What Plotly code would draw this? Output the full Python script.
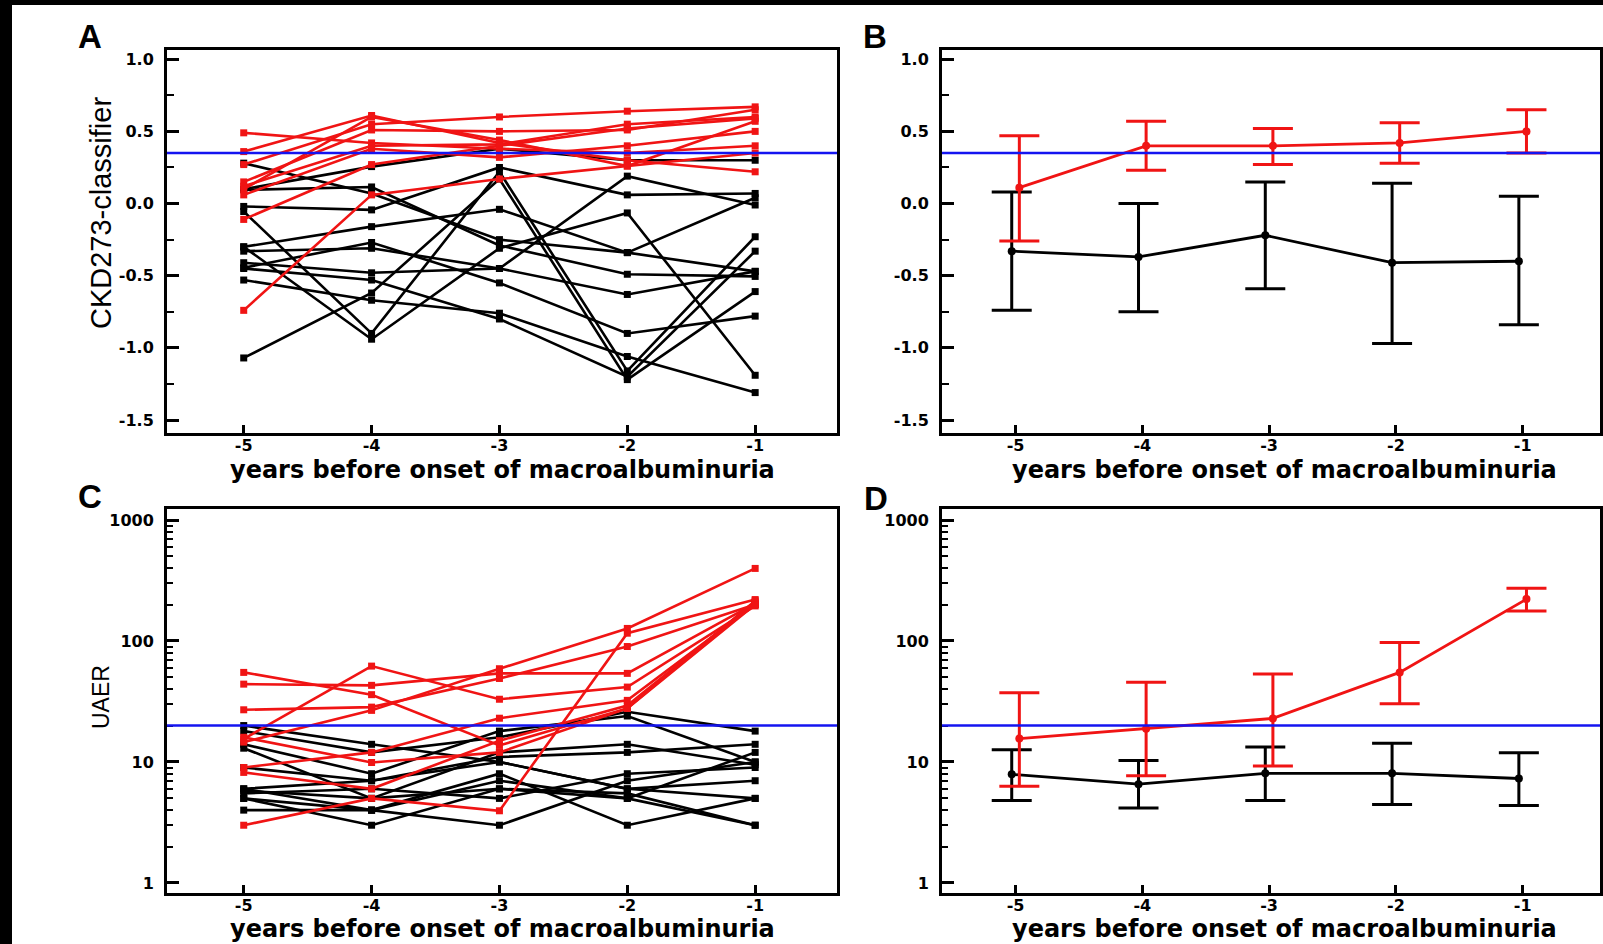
import plotly.graph_objects as go

# ---------------- data ----------------
years = [-5, -4, -3, -2, -1]
year_labels = ["-5", "-4", "-3", "-2", "-1"]

# Panel A: individual CKD273-classifier scores
ckd_red = [
    [0.49, 0.42, 0.38, 0.35, 0.40],
    [0.36, 0.61, 0.42, 0.30, 0.22],
    [0.27, 0.55, 0.60, 0.64, 0.67],
    [0.15, 0.51, 0.50, 0.51, 0.65],
    [0.12, 0.40, 0.41, 0.55, 0.60],
    [0.10, 0.60, 0.44, 0.26, 0.57],
    [0.06, 0.38, 0.32, 0.40, 0.50],
    [-0.11, 0.27, 0.40, 0.52, 0.59],
    [-0.74, 0.06, 0.17, 0.26, 0.35],
]
ckd_black = [
    [0.28, 0.07, -0.25, -0.34, -0.47],
    [0.10, 0.256, 0.38, 0.30, 0.30],
    [0.095, 0.115, -0.29, -0.49, -0.505],
    [-0.02, -0.044, 0.25, 0.06, 0.07],
    [-0.055, -0.90, 0.22, -1.16, -0.23],
    [-0.30, -0.16, -0.04, -0.34, 0.04],
    [-0.33, -0.31, -0.45, -0.63, -0.47],
    [-0.41, -0.48, -0.45, 0.19, -0.01],
    [-0.445, -0.27, -0.55, -0.90, -0.78],
    [-0.53, -0.67, -0.76, -1.06, -1.31],
    [-1.07, -0.62, 0.17, -1.22, -0.61],
    [-0.30, -0.94, -0.31, -0.065, -1.19],
    [-0.45, -0.53, -0.80, -1.20, -0.33],
]

# Panel B: mean with error bars
ckd_red_mean = [0.11, 0.40, 0.40, 0.42, 0.50]
ckd_red_upper = [0.47, 0.57, 0.52, 0.56, 0.65]
ckd_red_lower = [-0.26, 0.23, 0.27, 0.28, 0.35]
ckd_black_mean = [-0.33, -0.37, -0.22, -0.41, -0.40]
ckd_black_upper = [0.08, 0.00, 0.15, 0.14, 0.05]
ckd_black_lower = [-0.74, -0.75, -0.59, -0.97, -0.84]

# Panel C: individual UAER values
uaer_red = [
    [55, 36, 13.7, 27.7, 215],
    [44, 43, 54, 54, 205],
    [27, 28.4, 49, 90, 200],
    [15.5, 62, 33, 41.6, 195],
    [14.6, 26.7, 59, 127, 398],
    [9, 12, 23, 32.3, 200],
    [8.2, 6.0, 15, 29.3, 210],
    [3, 5, 3.95, 116, 220],
    [16, 9.9, 12, 27.7, 200],
]
uaer_black = [
    [20, 14, 10, 6, 5],
    [18, 12, 16, 26, 18],
    [14, 8, 18, 24, 10],
    [13, 5, 12, 14, 9.5],
    [6, 7, 11, 12, 14],
    [6, 4, 7, 5, 12],
    [5.5, 6, 5, 8, 9],
    [5, 4, 3, 7, 10],
    [5, 3, 6, 5, 3],
    [4, 4, 8, 3, 5],
    [9, 7, 10, 6, 7],
    [5.8, 5, 6, 5.5, 3],
]

# Panel D: mean with error bars
uaer_red_mean = [15.6, 18.8, 22.9, 55, 222]
uaer_red_upper = [37.3, 45.6, 53.3, 97.3, 273]
uaer_red_lower = [6.3, 7.7, 9.25, 30.3, 176.6]
uaer_black_mean = [7.9, 6.55, 8.05, 8.05, 7.3]
uaer_black_upper = [12.6, 10.3, 13.3, 14.3, 11.9]
uaer_black_lower = [4.8, 4.17, 4.8, 4.45, 4.36]

ckd_threshold = 0.35
uaer_threshold = 20

RED = "#f01414"
BLACK = "#000000"
BLUE = "#1414f0"

W, H = 1603, 944
FAMILY = "Liberation Sans, Arial, sans-serif"
WIDE = "DejaVu Sans, Verdana, sans-serif"

fig = go.Figure()


def add_individual(series_list, color, xa, ya):
    for s in series_list:
        fig.add_trace(go.Scatter(
            x=years, y=s, mode="lines+markers", xaxis=xa, yaxis=ya,
            line=dict(color=color, width=2.6),
            marker=dict(symbol="square", size=7, color=color),
            showlegend=False, hoverinfo="skip"))


def add_mean(mean, upper, lower, color, shift, xa, ya):
    xs = [y + shift for y in years]
    plus = [u - m for u, m in zip(upper, mean)]
    minus = [m - l for m, l in zip(mean, lower)]
    fig.add_trace(go.Scatter(
        x=xs, y=mean, mode="lines+markers", xaxis=xa, yaxis=ya,
        line=dict(color=color, width=2.8),
        marker=dict(symbol="circle", size=8, color=color),
        error_y=dict(type="data", symmetric=False, array=plus, arrayminus=minus,
                     color=color, thickness=3, width=20),
        showlegend=False, hoverinfo="skip"))


add_individual(ckd_black, BLACK, "x", "y")
add_individual(ckd_red, RED, "x", "y")
add_mean(ckd_black_mean, ckd_black_upper, ckd_black_lower, BLACK, -0.03, "x2", "y2")
add_mean(ckd_red_mean, ckd_red_upper, ckd_red_lower, RED, 0.03, "x2", "y2")
add_individual(uaer_black, BLACK, "x3", "y3")
add_individual(uaer_red, RED, "x3", "y3")
add_mean(uaer_black_mean, uaer_black_upper, uaer_black_lower, BLACK, -0.03, "x4", "y4")
add_mean(uaer_red_mean, uaer_red_upper, uaer_red_lower, RED, 0.03, "x4", "y4")

# ---------------- layout ----------------
tickfont = dict(family=WIDE, size=16, color="black", weight="bold")
dom_left = [167 / W, 837 / W]
dom_right = [942 / W, 1600 / W]
dom_top = [1 - 433 / H, 1 - 50 / H]
dom_bot = [1 - 893 / H, 1 - 509 / H]


def xaxis(domain, anchor, rng):
    return dict(domain=domain, anchor=anchor, range=rng, tickvals=years, ticktext=year_labels,
                ticks="inside", ticklen=8, tickwidth=2.5, tickcolor="black",
                showline=True, mirror=True, linecolor="black", linewidth=3,
                showgrid=False, zeroline=False, tickfont=tickfont, ticklabelstandoff=-4,
                fixedrange=True)


ckd_ticks = [-1.5, -1.0, -0.5, 0.0, 0.5, 1.0]
ckd_ticktext = ["-1.5", "-1.0", "-0.5", "0.0", "0.5", "1.0"]
log_ticks = [1, 10, 100, 1000]
log_ticktext = ["1", "10", "100", "1000"]
log_minor = [m * d for d in (1, 10, 100) for m in range(2, 10)]


def ylin(domain, anchor):
    return dict(domain=domain, anchor=anchor, range=[-1.59, 1.064], tickvals=ckd_ticks,
                ticktext=ckd_ticktext, ticks="inside", ticklen=12, tickwidth=2.5, tickcolor="black",
                minor=dict(dtick=0.25, tick0=0, ticks="inside", ticklen=7, tickwidth=2, tickcolor="black"),
                showline=True, mirror=True, linecolor="black", linewidth=3,
                showgrid=False, zeroline=False, tickfont=tickfont, ticklabelstandoff=7,
                fixedrange=True)


def ylog(domain, anchor):
    return dict(domain=domain, anchor=anchor, type="log", range=[-0.083, 3.091],
                tickvals=log_ticks, ticktext=log_ticktext, ticks="inside", ticklen=12,
                tickwidth=2.5, tickcolor="black",
                minor=dict(tickvals=log_minor, ticks="inside", ticklen=6, tickwidth=2, tickcolor="black"),
                showline=True, mirror=True, linecolor="black", linewidth=3,
                showgrid=False, zeroline=False, tickfont=tickfont, ticklabelstandoff=7,
                fixedrange=True)


fig.update_layout(
    width=W, height=H, margin=dict(l=0, r=0, t=0, b=0),
    paper_bgcolor="white", plot_bgcolor="white", showlegend=False,
    xaxis=xaxis(dom_left, "y", [-5.60, -0.36]),
    yaxis=ylin(dom_top, "x"),
    xaxis2=xaxis(dom_right, "y2", [-5.58, -0.39]),
    yaxis2=ylin(dom_top, "x2"),
    xaxis3=xaxis(dom_left, "y3", [-5.60, -0.36]),
    yaxis3=ylog(dom_bot, "x3"),
    xaxis4=xaxis(dom_right, "y4", [-5.58, -0.39]),
    yaxis4=ylog(dom_bot, "x4"),
)

shapes = []
for xr, yr, val in (("x", "y", ckd_threshold), ("x2", "y2", ckd_threshold),
                    ("x3", "y3", uaer_threshold), ("x4", "y4", uaer_threshold)):
    shapes.append(dict(type="line", xref=xr + " domain", yref=yr, x0=0, x1=1, y0=val, y1=val,
                       line=dict(color=BLUE, width=2.5), layer="above"))
# black strips at the top and left edges of the picture
shapes.append(dict(type="rect", xref="paper", yref="paper", x0=0, x1=12 / W, y0=0, y1=1,
                   fillcolor="black", line=dict(width=0), layer="above"))
shapes.append(dict(type="rect", xref="paper", yref="paper", x0=0, x1=1, y0=1 - 5 / H, y1=1,
                   fillcolor="black", line=dict(width=0), layer="above"))
fig.update_layout(shapes=shapes)

letter_font = dict(family=FAMILY, size=33, color="black", weight="bold")
title_font = dict(family=WIDE, size=24, color="black", weight="bold")
ann = []
for txt, px, py in (("A", 90, 37), ("B", 875, 37), ("C", 90, 496), ("D", 876, 498)):
    ann.append(dict(text=txt, x=px / W, y=1 - py / H, xref="paper", yref="paper",
                    showarrow=False, xanchor="center", yanchor="middle", font=letter_font))
for px, py in ((503, 470), (1284, 470), (503, 929), (1284, 929)):
    ann.append(dict(text="years before onset of macroalbuminuria", x=px / W, y=1 - py / H,
                    xref="paper", yref="paper", showarrow=False, xanchor="center",
                    yanchor="middle", font=title_font))
ann.append(dict(text="CKD273-classifier", x=101 / W, y=1 - 213 / H, xref="paper", yref="paper",
                showarrow=False, textangle=-90, xanchor="center", yanchor="middle",
                font=dict(family=FAMILY, size=29, color="black")))
ann.append(dict(text="UAER", x=101 / W, y=1 - 697 / H, xref="paper", yref="paper",
                showarrow=False, textangle=-90, xanchor="center", yanchor="middle",
                font=dict(family=FAMILY, size=23, color="black")))
fig.update_layout(annotations=ann)

fig.write_html("out.html")
